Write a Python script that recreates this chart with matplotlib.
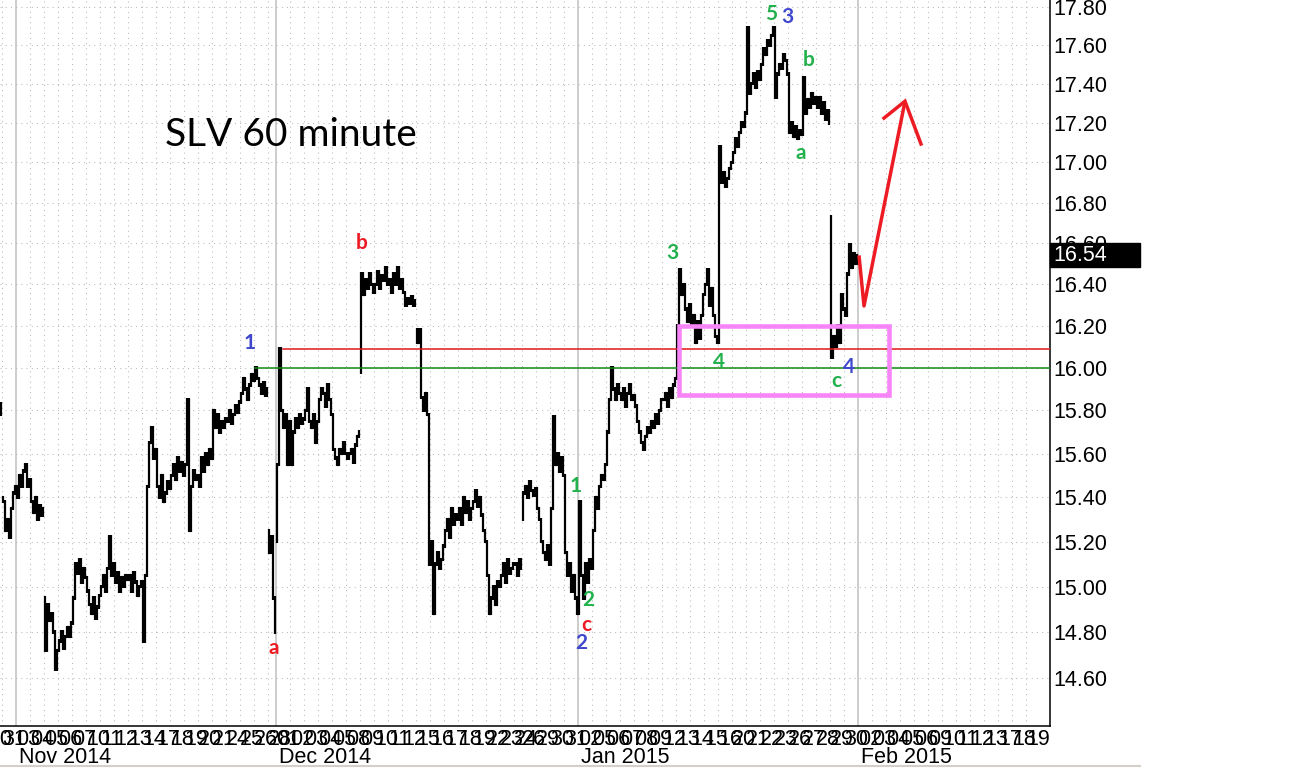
import matplotlib
matplotlib.use('Agg')
import matplotlib.pyplot as plt
from matplotlib.collections import LineCollection
from matplotlib.patches import Rectangle
from matplotlib.lines import Line2D
from matplotlib.ticker import FixedLocator, NullLocator, FuncFormatter

# trading days shown (hourly bars, 7 per day, 4 on half days)
dates = ['10-30', '10-31',
         '11-03', '11-04', '11-05', '11-06', '11-07', '11-10', '11-11', '11-12', '11-13', '11-14',
         '11-17', '11-18', '11-19', '11-20', '11-21', '11-24', '11-25', '11-26', '11-28',
         '12-01', '12-02', '12-03', '12-04', '12-05', '12-08', '12-09', '12-10', '12-11', '12-12',
         '12-15', '12-16', '12-17', '12-18', '12-19', '12-22', '12-23', '12-24', '12-26', '12-29',
         '12-30', '12-31',
         '01-02', '01-05', '01-06', '01-07', '01-08', '01-09', '01-12', '01-13', '01-14', '01-15',
         '01-16', '01-20', '01-21', '01-22', '01-23', '01-26', '01-27', '01-28', '01-29', '01-30']

# hourly closes for each day
closes = [
    [15.78],
    [15.38, 15.25, 15.30, 15.22, 15.35, 15.42, 15.45],
    [15.40, 15.50, 15.45, 15.52, 15.55, 15.45, 15.48],
    [15.38, 15.33, 15.40, 15.30, 15.36, 15.32, 15.35],
    [14.72, 14.92, 14.85, 14.88, 14.80, 14.64, 14.72],
    [14.76, 14.80, 14.73, 14.78, 14.82, 14.78, 14.84],
    [14.95, 15.10, 15.06, 15.12, 15.02, 15.08, 15.04],
    [14.98, 14.92, 14.88, 14.95, 14.86, 14.91, 14.96],
    [15.00, 15.05, 14.98, 15.08, 15.22, 15.05, 15.10],
    [15.02, 15.06, 14.98, 15.04, 15.00, 15.05, 15.03],
    [15.05, 14.98, 15.06, 15.02, 14.96, 15.00, 15.02],
    [14.76, 15.05, 15.45, 15.65, 15.72, 15.58, 15.62],
    [15.45, 15.40, 15.50, 15.38, 15.42, 15.47, 15.44],
    [15.50, 15.55, 15.48, 15.58, 15.52, 15.56, 15.50],
    [15.55, 15.85, 15.25, 15.45, 15.52, 15.48, 15.50],
    [15.45, 15.58, 15.52, 15.60, 15.55, 15.62, 15.58],
    [15.80, 15.72, 15.78, 15.70, 15.75, 15.72, 15.76],
    [15.75, 15.80, 15.74, 15.78, 15.82, 15.79, 15.84],
    [15.88, 15.95, 15.90, 15.85, 15.92, 15.97, 15.94],
    [16.00, 15.95, 15.92, 15.88, 15.93, 15.87, 15.90],
    [15.15, 15.22, 14.95, 14.80],
    [15.55, 16.09, 15.80, 15.72, 15.78, 15.55, 15.75],
    [15.55, 15.70, 15.76, 15.72, 15.78, 15.74, 15.76],
    [15.80, 15.90, 15.75, 15.72, 15.78, 15.65, 15.75],
    [15.85, 15.90, 15.88, 15.82, 15.92, 15.85, 15.78],
    [15.62, 15.58, 15.55, 15.62, 15.60, 15.65, 15.60],
    [15.58, 15.60, 15.62, 15.56, 15.64, 15.68, 15.70],
    [16.45, 16.35, 16.42, 16.38, 16.45, 16.40, 16.36],
    [16.40, 16.46, 16.38, 16.44, 16.42, 16.48, 16.40],
    [16.42, 16.36, 16.45, 16.40, 16.48, 16.38, 16.42],
    [16.36, 16.30, 16.33, 16.31, 16.34, 16.30, 16.32],
    [16.12, 16.18, 15.86, 15.80, 15.88, 15.78, 15.10],
    [15.20, 14.88, 15.10, 15.15, 15.08, 15.12, 15.18],
    [15.25, 15.30, 15.22, 15.35, 15.28, 15.32, 15.30],
    [15.35, 15.28, 15.40, 15.33, 15.38, 15.30, 15.35],
    [15.38, 15.43, 15.36, 15.40, 15.32, 15.25, 15.20],
    [15.05, 14.88, 14.95, 15.00, 14.92, 15.02, 15.00],
    [15.05, 15.10, 15.02, 15.12, 15.06, 15.08, 15.10],
    [15.10, 15.05, 15.12, 15.08],
    [15.42, 15.45, 15.40, 15.47, 15.43, 15.41, 15.44],
    [15.35, 15.30, 15.20, 15.15, 15.12, 15.18, 15.10],
    [15.35, 15.77, 15.55, 15.60, 15.52, 15.58, 15.50],
    [15.15, 15.05, 15.10, 14.98, 15.05, 14.95, 14.88],
    [15.38, 15.05, 14.95, 15.10, 15.02, 15.12, 15.08],
    [15.25, 15.40, 15.35, 15.45, 15.50, 15.48, 15.55],
    [15.70, 15.85, 16.00, 15.90, 15.85, 15.92, 15.88],
    [15.85, 15.90, 15.82, 15.88, 15.92, 15.85, 15.87],
    [15.82, 15.75, 15.70, 15.65, 15.62, 15.68, 15.72],
    [15.70, 15.75, 15.72, 15.78, 15.74, 15.80, 15.85],
    [15.85, 15.88, 15.82, 15.90, 15.86, 15.92, 15.95],
    [16.20, 16.47, 16.35, 16.40, 16.28, 16.22, 16.30],
    [16.20, 16.25, 16.12, 16.22, 16.14, 16.25, 16.35],
    [16.40, 16.47, 16.30, 16.38, 16.25, 16.15, 16.12],
    [17.08, 16.90, 16.95, 16.88, 16.92, 16.97, 17.00],
    [17.05, 17.12, 17.08, 17.15, 17.20, 17.18, 17.25],
    [17.69, 17.35, 17.40, 17.45, 17.38, 17.46, 17.42],
    [17.50, 17.58, 17.55, 17.62, 17.60, 17.65, 17.69],
    [17.33, 17.45, 17.50, 17.48, 17.55, 17.52, 17.45],
    [17.15, 17.20, 17.13, 17.18, 17.12, 17.16, 17.14],
    [17.43, 17.25, 17.32, 17.28, 17.35, 17.30, 17.33],
    [17.28, 17.33, 17.25, 17.30, 17.22, 17.26, 17.20],
    [16.05, 16.15, 16.10, 16.20, 16.12, 16.35, 16.28],
    [16.25, 16.45, 16.59, 16.48, 16.55, 16.50, 16.54],
]

# opening prints where the day gapped away from the prior close
gap_open = {'10-30': 15.83, '10-31': 15.40, '11-05': 14.95, '11-28': 15.25,
            '12-01': 15.20, '12-09': 15.98, '12-15': 16.18, '12-26': 15.30,
            '01-29': 16.73}

future_dates = ['02-02', '02-03', '02-04', '02-05', '02-06', '02-09', '02-10',
                '02-11', '02-12', '02-13', '02-17', '02-18', '02-19']

month_names = ['Nov 2014', 'Dec 2014', 'Jan 2015', 'Feb 2015']
month_first = ['11-03', '12-01', '01-02', '02-02']

y_ticks = [14.6, 14.8, 15.0, 15.2, 15.4, 15.6, 15.8, 16.0, 16.2, 16.4,
           16.6, 16.8, 17.0, 17.2, 17.4, 17.6, 17.8]
last_price = 16.54

# wave counts: (text, colour, bar position, price)
GREEN, BLUE, RED = '#22b14c', '#3f48cc', '#ed1c24'
wave_labels = [
    ('1', BLUE, 116.5, 16.117), ('a', RED, 128.5, 14.73), ('b', RED, 172.5, 16.60),
    ('1', GREEN, 279.5, 15.45), ('2', GREEN, 285.5, 14.94), ('c', RED, 284.5, 14.83),
    ('2', BLUE, 282.0, 14.75), ('3', GREEN, 327.5, 16.55), ('4', GREEN, 351.0, 16.03),
    ('5', GREEN, 377.0, 17.76), ('3', BLUE, 385.0, 17.746), ('b', GREEN, 396.0, 17.52),
    ('a', GREEN, 392.0, 17.05), ('c', GREEN, 409.5, 15.94), ('4', BLUE, 416.0, 16.005),
]

resistance = 16.09
resistance_start = 133
support = 16.00
support_start = 119
box_bars = [331, 436]
box_prices = [15.87, 16.20]
arrow_bars = [421, 423.5, 444]
arrow_prices = [16.54, 16.295, 17.31]
head_bars = [433.5, 444, 452]
head_prices = [17.224, 17.31, 17.093]

FIRST_BAR = -8
W, H = 1316, 768
TICK_FONT = 'Liberation Sans'


def build_bars():
    xs, opens, cls, starts = [], [], [], []
    b = FIRST_BAR
    prev = None
    for d, day in zip(dates, closes):
        starts.append(b)
        o = gap_open.get(d, prev)
        for c in day:
            xs.append(b)
            opens.append(o)
            cls.append(c)
            o = c
            b += 1
        prev = day[-1]
    # first day is only partly on screen
    starts[0] -= 7 - len(closes[0])
    fut = []
    for d in future_dates:
        fut.append(b)
        b += 7
    return xs, opens, cls, starts, fut


def draw_bars(ax, xs, opens, cls):
    segs = []
    for x, o, c in zip(xs, opens, cls):
        segs.append([(x, min(o, c) * 0.9995), (x, max(o, c) * 1.0005)])
        segs.append([(x - 0.7, o), (x, o)])
        segs.append([(x, c), (x + 0.7, c)])
    ax.add_collection(LineCollection(segs, colors='black', linewidths=1.6, zorder=3))


def main():
    xs, opens, cls, starts, fut = build_bars()
    all_dates = dates + future_dates
    all_starts = starts + fut

    fig = plt.figure(figsize=(W / 100, H / 100), dpi=100)
    ax = fig.add_axes([0, 42 / H, 1050 / W, 726 / H])
    ax.set_yscale('log')
    ax.set_xlim(FIRST_BAR - 0.5, 516.5)
    ax.set_ylim(14.395, 17.835)

    # grid
    for d, s in zip(all_dates, all_starts):
        if d in month_first:
            ax.axvline(s - 0.5, color='#c0c0c0', lw=1.1, zorder=1)
        else:
            ax.axvline(s - 0.5, color='#b8b8b8', lw=0.75, ls=(0, (1, 4)), zorder=1)
    for t in y_ticks:
        ax.axhline(t, color='#b8b8b8', lw=0.75, ls=(0, (1, 4)), zorder=1)

    draw_bars(ax, xs, opens, cls)

    # support / resistance lines
    ax.plot([resistance_start, 516.5], [resistance, resistance], color='#e01818', lw=1.1, zorder=4)
    ax.plot([support_start, 516.5], [support, support], color='#108c10', lw=1.1, zorder=4)

    # pink box and red projection arrow
    ax.add_patch(Rectangle((box_bars[0], box_prices[0]), box_bars[1] - box_bars[0],
                           box_prices[1] - box_prices[0], fill=False,
                           edgecolor='#f885f8', lw=3.3, zorder=5))
    ax.plot(arrow_bars, arrow_prices, color=RED, lw=2.5, zorder=5, solid_capstyle='butt')
    ax.plot(head_bars, head_prices, color=RED, lw=2.5, zorder=5, solid_joinstyle='miter')

    for txt, col, bx, p in wave_labels:
        ax.text(bx, p, txt, color=col, fontsize=15, fontweight='bold', family='Lato',
                ha='center', va='center', zorder=6)

    ax.text(0.157, 0.814, 'SLV 60 minute', transform=ax.transAxes, fontsize=28,
            family='Lato', ha='left', va='center')

    # axes styling
    for side in ['top', 'left']:
        ax.spines[side].set_visible(False)
    for side in ['right', 'bottom']:
        ax.spines[side].set_linewidth(1.1)
    ax.yaxis.tick_right()
    ax.yaxis.set_major_locator(FixedLocator(y_ticks))
    ax.yaxis.set_minor_locator(NullLocator())
    ax.yaxis.set_major_formatter(FuncFormatter(lambda v, pos: '%.2f' % v))
    ax.tick_params(axis='y', length=0, pad=2.5, labelsize=15.5)
    for lab in ax.get_yticklabels():
        lab.set_family(TICK_FONT)
    ax.set_xticks([])

    # day numbers (zero padded, they overlap like the original) and month names
    trans = ax.get_xaxis_transform()
    for d, s in zip(all_dates, all_starts):
        ax.text(s - 0.5, -0.018, d.split('-')[1], transform=trans,
                fontsize=15.5, family=TICK_FONT, ha='left', va='center', clip_on=False)
    for name, d in zip(month_names, month_first):
        s = all_starts[all_dates.index(d)]
        ax.text(s + 1, -0.043, name, transform=trans, fontsize=15.5,
                family=TICK_FONT, ha='left', va='center', clip_on=False)

    # last price marker on the scale
    fig.canvas.draw()
    y_disp = ax.transData.transform((0, last_price))[1]
    fig.add_artist(Rectangle((1050 / W, (y_disp - 12) / H), 90 / W, 24 / H,
                             transform=fig.transFigure, color='black', zorder=10))
    fig.text(1053 / W, y_disp / H, '%.2f' % last_price, color='white', fontsize=15.5,
             family=TICK_FONT, ha='left', va='center', zorder=11)

    fig.add_artist(Line2D([0, 1140 / W], [2 / H, 2 / H], transform=fig.transFigure,
                          color='#d4d0c8', lw=1.5))

    fig.savefig('out.png', dpi=100)


main()
